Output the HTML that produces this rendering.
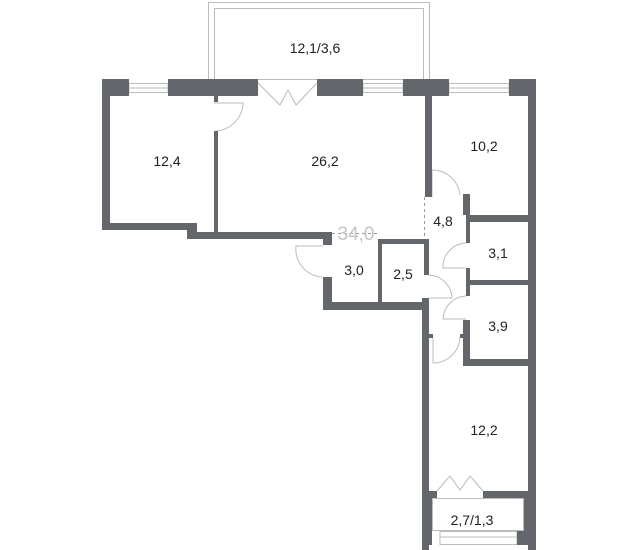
<!DOCTYPE html>
<html><head><meta charset="utf-8"><style>
html,body{margin:0;padding:0;background:#fff;}
svg{display:block;}
text{font-family:"Liberation Sans",sans-serif;font-size:14px;fill:#222;text-anchor:middle;}
</style></head><body>
<svg width="638" height="550" viewBox="0 0 638 550" xmlns="http://www.w3.org/2000/svg">
<!-- balcony top -->
<g fill="none" stroke="#bbb" stroke-width="1">
<rect x="208.5" y="2.5" width="221" height="77"/>
<polyline points="214.5,79 214.5,8.5 423.5,8.5 423.5,79"/>
<!-- windows -->
<rect x="129" y="83.5" width="39" height="9"/><line x1="129" y1="88" x2="168" y2="88"/>
<rect x="363" y="83.5" width="40" height="9"/><line x1="363" y1="88" x2="403" y2="88"/>
<rect x="449" y="83.5" width="60" height="9"/><line x1="449" y1="88" x2="509" y2="88"/>
<rect x="440" y="531.5" width="77" height="13"/><line x1="440" y1="537" x2="517" y2="537"/>
<!-- balcony doors -->
<polyline points="258,83 280,105 288,90 296,105 317,83"/>
<polyline points="437,491 450,476 460,490 470,476 483,491"/>
<rect x="432.5" y="498.5" width="91" height="32"/>
<!-- doors -->
<path d="M214,103 L243,103 A29,29 0 0 1 216,131"/>
<path d="M432,197 L432,170 A28,28 0 0 1 460,195"/>
<path d="M323,246 L296,246 A28,28 0 0 0 323,277"/>
<path d="M429,275 A24,24 0 0 1 452,298 L429,298"/>
<path d="M466,243 A24,24 0 0 0 443,268 L466,268"/>
<path d="M466,296 A24,24 0 0 0 443,319 L466,319"/>
<path d="M433,337 L433,363 A27,27 0 0 0 460,337"/>
</g>
<line x1="424.5" y1="197" x2="424.5" y2="239" stroke="#999" stroke-dasharray="3,3"/>
<line x1="332" y1="233.5" x2="378" y2="233.5" stroke="#999" stroke-dasharray="3,3"/>
<g fill="#63666a">
<!-- top wall -->
<rect x="102" y="79" width="27" height="17"/>
<rect x="168" y="79" width="90" height="17"/>
<rect x="317" y="79" width="46" height="17"/>
<rect x="403" y="79" width="46" height="17"/>
<rect x="509" y="79" width="27" height="17"/>
<!-- left outer -->
<rect x="102" y="79" width="8" height="151"/>
<rect x="102" y="223" width="95" height="7"/>
<rect x="187" y="223" width="10" height="16"/>
<rect x="187" y="232" width="145" height="7"/>
<!-- partition 12.4/26.2 -->
<rect x="214" y="96" width="4" height="6"/>
<rect x="214" y="131" width="4" height="101"/>
<!-- 3.0 room -->
<rect x="323" y="232" width="9" height="13"/>
<rect x="323" y="277" width="9" height="33"/>
<rect x="323" y="302" width="105" height="8"/>
<rect x="378" y="239" width="4" height="63"/>
<rect x="378" y="239" width="51" height="5"/>
<rect x="424" y="239" width="5" height="36"/>
<!-- corridor left wall -->
<rect x="422" y="298" width="7" height="252"/>
<rect x="422" y="298" width="7" height="0"/>
<rect x="428" y="334" width="5" height="4"/>
<rect x="460" y="334" width="5" height="4"/>
<!-- 4.8 partition -->
<rect x="425" y="96" width="7" height="101"/>
<!-- right column -->
<rect x="463" y="194" width="7" height="21"/>
<rect x="466" y="215" width="4" height="28"/>
<rect x="466" y="268" width="4" height="28"/>
<rect x="466" y="215" width="62" height="7"/>
<rect x="466" y="280" width="62" height="5"/>
<rect x="463" y="320" width="7" height="46"/>
<rect x="463" y="359" width="65" height="7"/>
<rect x="528" y="79" width="8" height="471"/>
<!-- bottom 12.2 -->
<rect x="422" y="491" width="15" height="7"/>
<rect x="483" y="491" width="45" height="7"/>
<rect x="422" y="498" width="10" height="47"/>
<rect x="517" y="531" width="19" height="14"/>
<rect x="524" y="498" width="4" height="40"/>
</g>
<text x="315" y="53">12,1/3,6</text>
<text x="167" y="166">12,4</text>
<text x="325" y="166">26,2</text>
<text x="484" y="151">10,2</text>
<text x="443" y="226">4,8</text>
<text x="498" y="258">3,1</text>
<text x="354" y="275">3,0</text>
<text x="403" y="279">2,5</text>
<text x="498" y="331">3,9</text>
<text x="484" y="435">12,2</text>
<text x="472" y="525">2,7/1,3</text>
<text x="356" y="240" style="font-size:19px;fill:#c4c4c4">34,0</text>
</svg>
</body></html>
